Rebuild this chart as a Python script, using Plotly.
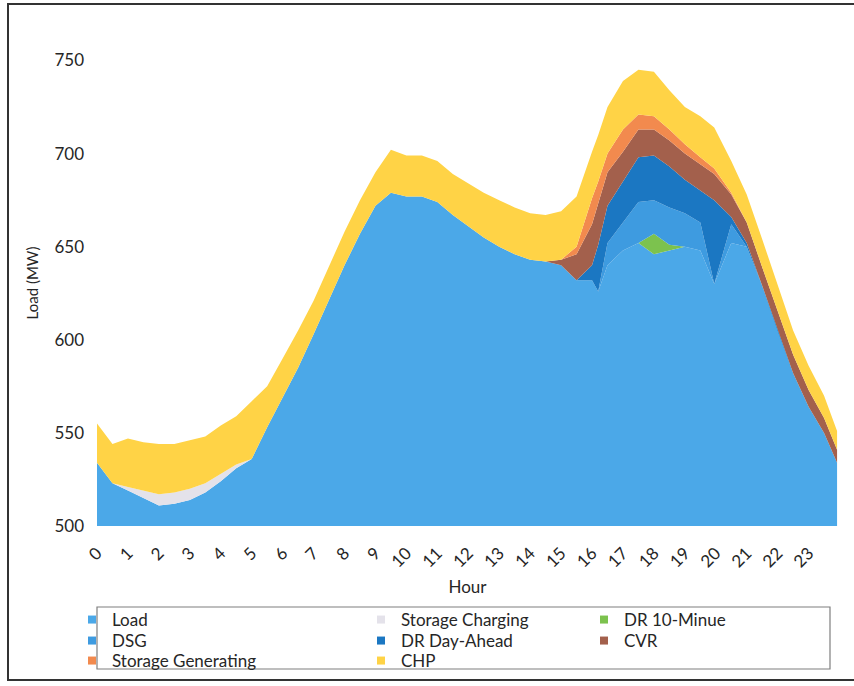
import plotly.graph_objects as go

hours = [0, 0.5, 1, 1.5, 2, 2.5, 3, 3.5, 4, 4.5, 5, 5.5, 6, 6.5, 7, 7.5, 8, 8.5, 9, 9.5,
         10, 10.5, 11, 11.5, 12, 12.5, 13, 13.5, 14, 14.5, 15, 15.5, 16, 16.2, 16.5, 17,
         17.5, 18, 18.5, 19, 19.5, 19.95, 20.5, 21, 21.5, 22, 22.5, 23, 23.5, 23.92]

load = [534, 523, 519, 515, 511, 512, 514, 518, 524, 531, 536, 553, 569, 585, 603, 622,
        640, 657, 672, 679, 677, 677, 674, 667, 661, 655, 650, 646, 643, 642, 640, 632,
        632, 626, 640, 648, 652, 646, 648, 650, 648, 630, 652, 650, 629, 605, 582, 564,
        550, 534]
storage_charging = [0, 0, 2, 4, 6, 6, 6, 5, 4, 2] + [0] * 40
dr_10min = [0] * 37 + [11, 3] + [0] * 11
dsg = [0] * 34 + [12, 15, 22, 18, 20, 18, 15, 0, 10] + [0] * 7
dr_day_ahead = [0] * 32 + [8, 25, 20, 22, 24, 24, 22, 18, 17, 45, 4, 2] + [0] * 6
cvr = [0] * 30 + [3, 14, 22, 22, 18, 16, 15, 14, 14, 14, 14, 14, 12, 11, 10, 10, 10, 9, 8, 7]
storage_generating = [0] * 31 + [4, 14, 12, 10, 12, 8, 7, 6, 5, 4, 3, 1] + [0] * 7
chp = [21, 21, 26, 26, 27, 26, 26, 25, 26, 26, 31, 22, 21, 20, 18, 18, 18, 18, 18, 23,
       22, 22, 22, 22, 23, 24, 25, 25, 25, 25, 26, 27, 25, 25, 25, 26, 24, 24, 21, 20,
       22, 22, 17, 15, 15, 14, 13, 13, 12, 10]

series_names = ["Load", "Storage Charging", "DR 10-Minue", "DSG", "DR Day-Ahead",
                "CVR", "Storage Generating", "CHP"]
series_values = [load, storage_charging, dr_10min, dsg, dr_day_ahead, cvr,
                 storage_generating, chp]
colors = ["#4BA8E8", "#E4E2EA", "#7CC24E", "#3E9BE0", "#1B77C2",
          "#A3604C", "#F28A4E", "#FFD346"]
hour_ticks = list(range(24))
y_ticks = [500, 550, 600, 650, 700, 750]

FONT = "Lato, Open Sans, sans-serif"
L, R, T, B = 97, 838, 40, 526
W, H = 854, 686
pw, ph = R - L, B - T


def px(x):
    return (x - L) / pw


def py(y):
    return (B - y) / ph


# legend grid: 3 columns x 3 rows, one legend per entry
col_x = [72, 361, 584]
row_y = [620, 641, 661]

fig = go.Figure()
for name, vals, col in zip(series_names, series_values, colors):
    fig.add_trace(go.Scatter(
        x=hours, y=vals, name=name, stackgroup="one", mode="lines",
        line=dict(width=0, color=col), fillcolor=col, showlegend=False))

legends = {}
for i, (name, col) in enumerate(zip(series_names, colors)):
    key = "legend" if i == 0 else f"legend{i + 1}"
    r, c = divmod(i, 3)
    fig.add_trace(go.Scatter(
        x=[None], y=[None], name=name, mode="markers", legend=key,
        marker=dict(symbol="square", size=8, color=col), showlegend=True))
    legends[key] = dict(orientation="v", xanchor="left", yanchor="middle",
                        x=px(col_x[c]), y=py(row_y[r]),
                        font=dict(family=FONT, size=17, color="#262626"),
                        bgcolor="rgba(0,0,0,0)", itemwidth=30)

fig.update_layout(
    width=W, height=H,
    margin=dict(l=L, r=W - R, t=T, b=H - B, autoexpand=False),
    paper_bgcolor="white", plot_bgcolor="white",
    font=dict(family=FONT, size=17, color="#262626"),
    showlegend=True,
    xaxis=dict(range=[0, 23.95], tickvals=hour_ticks, ticktext=[str(h) for h in hour_ticks],
               tickangle=-45, showgrid=False, zeroline=False, showline=False,
               ticks="", tickfont=dict(size=17), ticklabelstandoff=13,
               title=dict(text="Hour", font=dict(size=17), standoff=10)),
    yaxis=dict(range=[500, 761], tickvals=y_ticks, showgrid=False, zeroline=False,
               showline=False, ticks="", tickfont=dict(size=17), ticklabelstandoff=12,
               title=dict(text="Load (MW)", font=dict(size=15), standoff=12)),
    shapes=[
        dict(type="rect", xref="paper", yref="paper", x0=px(97), x1=px(830),
             y0=py(669), y1=py(607), line=dict(color="#7F7F7F", width=1.2)),
        dict(type="rect", xref="paper", yref="paper", x0=px(8), x1=px(870),
             y0=py(680), y1=py(4), line=dict(color="#333333", width=2)),
    ],
    **legends,
)

fig.write_html("out.html", post_script="document.body.style.margin='0';",
               config={"displayModeBar": False})
